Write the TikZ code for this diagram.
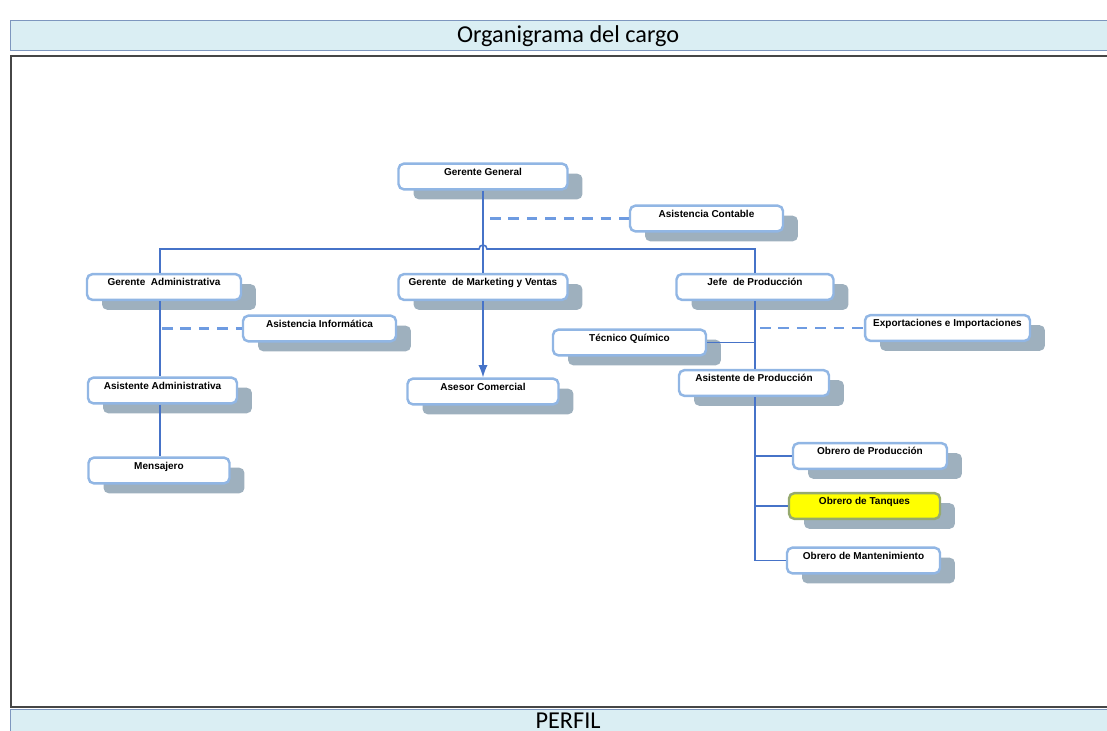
\documentclass[tikz,border=0pt]{standalone}
\usepackage{fontspec}
\setmainfont{Liberation Sans}
\newfontfamily\calibri{Carlito}
\usepackage{xcolor}
\definecolor{ogborde}{RGB}{145,182,228}
\definecolor{oglinea}{RGB}{70,115,200}
\definecolor{ogpunto}{RGB}{110,155,225}
\definecolor{ogsombra}{RGB}{158,176,190}
\definecolor{ogbanda}{RGB}{218,238,243}
\definecolor{ogbandaborde}{RGB}{125,150,190}
\definecolor{ogmarco}{RGB}{70,70,70}
\definecolor{ogamarillo}{RGB}{255,255,0}
\definecolor{ogoliva}{RGB}{150,170,110}
\usepackage{tikz}
\usetikzlibrary{arrows.meta,shadows,calc}

\begin{document}
\begin{tikzpicture}[x=0.02cm,y=-0.02cm,>=Latex]
\tikzset{
 cargo/.style={draw=ogborde,line width=1.4pt,rounded corners=3pt,fill=white,inner xsep=2pt,inner ysep=0pt,text height=6.6pt,text depth=8pt,font=\fontsize{5.7}{6.5}\selectfont\bfseries,drop shadow={shadow xshift=0.3cm,shadow yshift=-0.2cm,fill=ogsombra,opacity=1}},
 resaltado/.style={cargo,fill=ogamarillo,draw=ogoliva},
 banda/.style={draw=ogbandaborde,fill=ogbanda,line width=0.8pt,anchor=north west,minimum width=22.3cm,minimum height=0.6cm,inner sep=0pt,font=\calibri\fontsize{13.8}{16}\selectfont},
 linea/.style={draw=oglinea,line width=0.9pt},
 punteada/.style={draw=ogpunto,line width=1.2pt,dash pattern=on 6pt off 4.5pt}
}
\useasboundingbox (0,0) rectangle (1107,731);
\clip (0,0) rectangle (1107,731);

% marco y bandas
\draw[draw=ogmarco,line width=1pt] (11,56) rectangle (1125,707);
\node[banda] (titulo) at (10,20) {Organigrama del cargo};
\node[banda,minimum height=0.44cm] (perfil) at (10,709) {PERFIL};

% cargos
\node[cargo,minimum width=3.38cm] (gg) at (483,176.5) {Gerente General};
\node[cargo,minimum width=3.06cm] (ac) at (706.5,218.5) {Asistencia Contable};
\node[cargo,minimum width=3.08cm] (ga) at (164,287) {Gerente\ \ Administrativa};
\node[cargo,minimum width=3.38cm] (gm) at (483,287) {Gerente\ \ de Marketing y Ventas};
\node[cargo,minimum width=3.14cm] (jp) at (755,287) {Jefe\ \ de Producción};
\node[cargo,minimum width=3.06cm] (ai) at (319.5,328.5) {Asistencia Informática};
\node[cargo,minimum width=3.06cm] (tq) at (629.5,342.5) {Técnico Químico};
\node[cargo,minimum width=3.3cm] (ei) at (947.5,328) {Exportaciones e Importaciones};
\node[cargo,minimum width=2.98cm] (asa) at (162.5,390.5) {Asistente Administrativa};
\node[cargo,minimum width=3.02cm] (aco) at (483,391.5) {Asesor Comercial};
\node[cargo,minimum width=3.0cm] (ap) at (754,383) {Asistente de Producción};
\node[cargo,minimum width=2.82cm] (me) at (159,470.5) {Mensajero};
\node[cargo,minimum width=3.08cm] (op) at (870,456) {Obrero de Producción};
\node[resaltado,minimum width=3.02cm] (ot) at (864.5,506) {Obrero de Tanques};
\node[cargo,minimum width=3.06cm] (om) at (863.5,560.5) {Obrero de Mantenimiento};

% columnas
\coordinate (colA) at (160,249);
\coordinate (colC) at (755,249);

% conectores
\draw[linea] (colA |- ga.north) -- (colA) -- (479,249) arc[start angle=180,end angle=360,radius=4] -- (colC) -- (jp.north);
\draw[linea] (gg.south) -- (gm.north);
\draw[linea,->] (gm.south) -- (aco.north);
\draw[linea] (ga.south -| colA) -- (asa.north -| colA);
\draw[linea] (asa.south -| colA) -- (me.north -| colA);
\draw[linea] (jp.south) -- (ap.north -| jp.south);
\draw[linea] (tq.east) -- (tq.east -| jp.south);
\draw[linea] (ap.south -| jp.south) -- (om.west -| jp.south) -- (om.west);
\draw[linea] (op.west -| jp.south) -- (op.west);
\draw[linea] (ot.west -| jp.south) -- (ot.west);
\draw[punteada] ($(gg.south |- ac.west)+(7,0)$) -- (ac.west);
\draw[punteada] ($(colA |- ai.west)+(2,0)$) -- (ai.west);
\draw[punteada] ($(jp.south |- ei.west)+(5,0)$) -- (ei.west);
\end{tikzpicture}
\end{document}
